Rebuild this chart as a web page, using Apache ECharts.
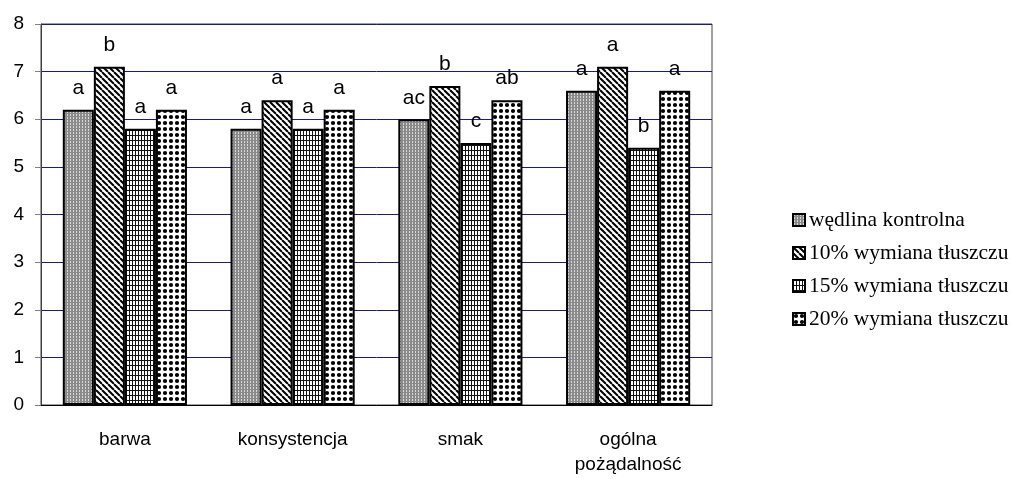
<!DOCTYPE html>
<html><head><meta charset="utf-8">
<script src="https://cdn.jsdelivr.net/npm/echarts@6/dist/echarts.min.js"></script>
<style>html,body{margin:0;padding:0;background:#fff}#c{width:1011px;height:479px}</style>
</head><body><div id="c"></div>
<script>
const categories = ['barwa', 'konsystencja', 'smak', 'ogólna\npożądalność'];
const seriesNames = ['wędlina kontrolna', '10% wymiana tłuszczu', '15% wymiana tłuszczu', '20% wymiana tłuszczu'];
const control = [6.2, 5.8, 6.0, 6.6];
const rep10 = [7.1, 6.4, 6.7, 7.1];
const rep15 = [5.8, 5.8, 5.5, 5.4];
const rep20 = [6.2, 6.2, 6.4, 6.6];
const lettersControl = ['a', 'a', 'ac', 'a'];
const letters10 = ['b', 'a', 'b', 'a'];
const letters15 = ['a', 'a', 'c', 'b'];
const letters20 = ['a', 'a', 'ab', 'a'];
const yTicks = [0, 1, 2, 3, 4, 5, 6, 7, 8];

function tile(w, h, draw) {
  const c = document.createElement('canvas');
  c.width = w; c.height = h;
  const g = c.getContext('2d');
  g.fillStyle = '#fff'; g.fillRect(0, 0, w, h);
  draw(g);
  return { image: c, repeat: 'repeat' };
}
const pat1 = tile(3, 3, g => {
  g.fillStyle = '#8a8a8a'; g.fillRect(0, 0, 3, 3);
  g.fillStyle = '#d8d8d8'; g.fillRect(1, 0, 1, 2);
});
const pat2 = tile(6, 6, g => {
  g.strokeStyle = '#000'; g.lineWidth = 2;
  for (let k = -6; k <= 12; k += 6) {
    g.beginPath(); g.moveTo(k, 0); g.lineTo(k + 6, 6); g.stroke();
  }
});
const pat3 = tile(3, 5, g => {
  g.fillStyle = '#111'; g.fillRect(0, 0, 1, 5); g.fillRect(0, 0, 3, 1);
});
const pat4 = tile(6, 6, g => {
  g.fillStyle = '#000'; g.beginPath(); g.arc(3, 3, 2.1, 0, Math.PI * 2); g.fill();
});
const pats = [pat1, pat2, pat3, pat4];
const datas = [control, rep10, rep15, rep20];
const letters = [lettersControl, letters10, letters15, letters20];

const chart = echarts.init(document.getElementById('c'));
chart.setOption({
  animation: false,
  grid: { left: 41, right: 299, top: 24, bottom: 74, show: true, borderColor: '#404040', borderWidth: 1 },
  legend: {
    orient: 'vertical', left: 787, top: 204, itemWidth: 12, itemHeight: 12, itemGap: 11,
    icon: 'rect',
    textStyle: { fontFamily: 'Liberation Serif', fontSize: 21.5, lineHeight: 22, color: '#000', padding: [0, 0, 0, -1] },
    data: seriesNames
  },
  xAxis: {
    type: 'category', data: categories,
    axisLine: { lineStyle: { color: '#000', width: 1 } },
    axisTick: { show: false },
    axisLabel: { fontFamily: 'Liberation Sans', fontSize: 19, color: '#000', margin: 22, lineHeight: 25 }
  },
  yAxis: {
    type: 'value', min: 0, max: 8, interval: 1,
    axisLine: { show: true, lineStyle: { color: '#404040' } },
    axisTick: { show: true, length: 6, lineStyle: { color: '#808080' } },
    axisLabel: { fontFamily: 'Liberation Sans', fontSize: 19, color: '#000', margin: 17,
      formatter: v => yTicks.includes(v) ? String(v) : '' },
    splitLine: { lineStyle: { color: '#1a1a80', width: 1 } }
  },
  series: datas.map((d, i) => ({
    name: seriesNames[i], type: 'bar', data: d,
    barGap: '0%', barCategoryGap: '26%',
    itemStyle: { color: pats[i], borderColor: '#000', borderWidth: 2 },
    label: { show: true, position: 'top', distance: 11, fontFamily: 'Liberation Sans', fontSize: 21, color: '#000',
      formatter: p => letters[i][p.dataIndex] }
  }))
});
</script></body></html>
